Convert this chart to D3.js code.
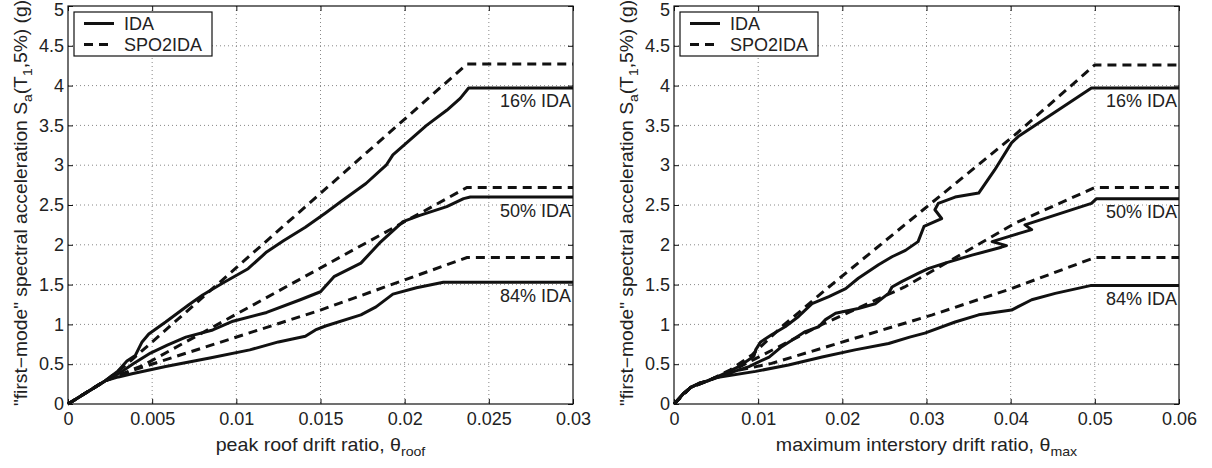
<!DOCTYPE html>
<html>
<head>
<meta charset="utf-8">
<script src="https://cdn.jsdelivr.net/npm/d3@7"></script>
<style>
  body { margin: 0; background: #fff; }
  svg { font-family: "Liberation Sans", Arial, Helvetica, sans-serif; }
  .tick text { font-size: 18px; fill: #222; }
</style>
</head>
<body>
<script>
// y axis (shared)
var yTicks = [0, 0.5, 1, 1.5, 2, 2.5, 3, 3.5, 4, 4.5, 5];
var yTickLabels = ['0', '0.5', '1', '1.5', '2', '2.5', '3', '3.5', '4', '4.5', '5'];

// left panel: peak roof drift ratio
var roofTicks = [0, 0.005, 0.01, 0.015, 0.02, 0.025, 0.03];
var roofTickLabels = ['0', '0.005', '0.01', '0.015', '0.02', '0.025', '0.03'];

var roofIda16 = [[0,0],[0.0011,0.145],[0.0022,0.29],[0.0030,0.42],[0.0035,0.54],[0.0040,0.61],[0.0044,0.78],[0.0048,0.88],
  [0.0058,1.03],[0.0072,1.25],[0.0080,1.37],[0.0092,1.52],[0.0107,1.70],[0.0118,1.91],[0.0128,2.05],[0.0141,2.22],
  [0.0153,2.40],[0.0162,2.54],[0.0177,2.77],[0.0189,3.00],[0.0193,3.13],[0.0213,3.50],[0.0225,3.69],[0.0233,3.84],
  [0.0238,3.97],[0.030,3.97]];
var roofIda50 = [[0,0],[0.0011,0.145],[0.0022,0.29],[0.0030,0.38],[0.0039,0.51],[0.0049,0.64],[0.0059,0.74],[0.0070,0.84],
  [0.0086,0.93],[0.0098,1.04],[0.0118,1.15],[0.0138,1.31],[0.0150,1.41],[0.0158,1.60],[0.0174,1.77],[0.0185,2.02],
  [0.0199,2.29],[0.0209,2.37],[0.0225,2.48],[0.0235,2.58],[0.0239,2.60],[0.030,2.60]];
var roofIda84 = [[0,0],[0.0011,0.145],[0.0022,0.29],[0.0030,0.34],[0.0038,0.38],[0.0058,0.47],[0.0085,0.58],[0.0108,0.68],
  [0.0125,0.78],[0.0141,0.85],[0.0147,0.93],[0.0153,0.98],[0.0174,1.12],[0.0183,1.22],[0.0193,1.38],[0.0207,1.46],
  [0.0223,1.53],[0.030,1.53]];
var roofSpo16 = [[0,0],[0.0022,0.29],[0.0035,0.50],[0.0237,4.27],[0.030,4.27]];
var roofSpo50 = [[0,0],[0.0022,0.29],[0.0045,0.49],[0.0237,2.72],[0.030,2.72]];
var roofSpo84 = [[0,0],[0.0022,0.29],[0.0038,0.42],[0.0150,1.18],[0.0237,1.84],[0.030,1.84]];

// right panel: maximum interstory drift ratio
var maxTicks = [0, 0.01, 0.02, 0.03, 0.04, 0.05, 0.06];
var maxTickLabels = ['0', '0.01', '0.02', '0.03', '0.04', '0.05', '0.06'];

var maxIda16 = [[0,0],[0.0006,0.07],[0.0012,0.14],[0.002,0.21],[0.003,0.26],[0.004,0.29],[0.0049,0.33],
  [0.0077,0.47],[0.0095,0.60],[0.0097,0.68],[0.0103,0.78],[0.0116,0.87],[0.0132,0.97],[0.0148,1.10],[0.0164,1.26],
  [0.0184,1.35],[0.0204,1.45],[0.0219,1.58],[0.0243,1.75],[0.0259,1.85],[0.0275,1.93],[0.0290,2.04],[0.0297,2.23],
  [0.0318,2.33],[0.0310,2.44],[0.0314,2.52],[0.0334,2.60],[0.0362,2.65],[0.0381,2.94],[0.0401,3.28],[0.0409,3.36],
  [0.0496,3.97],[0.060,3.97]];
var maxIda50 = [[0,0],[0.0006,0.07],[0.0012,0.14],[0.002,0.21],[0.003,0.26],[0.004,0.29],[0.0049,0.33],
  [0.0089,0.47],[0.0113,0.59],[0.0128,0.72],[0.0140,0.80],[0.0156,0.91],[0.0172,0.97],[0.0180,1.06],[0.0192,1.14],
  [0.0219,1.20],[0.0239,1.26],[0.0255,1.39],[0.0259,1.47],[0.0271,1.54],[0.0290,1.64],[0.0302,1.70],[0.0322,1.77],
  [0.0354,1.87],[0.0389,1.97],[0.0395,1.99],[0.0378,2.04],[0.0409,2.14],[0.0425,2.19],[0.0417,2.25],[0.0496,2.52],
  [0.0502,2.58],[0.060,2.58]];
var maxIda84 = [[0,0],[0.0006,0.07],[0.0012,0.14],[0.002,0.21],[0.003,0.26],[0.004,0.29],[0.0049,0.33],
  [0.0097,0.41],[0.0136,0.49],[0.0176,0.59],[0.0215,0.68],[0.0255,0.76],[0.0280,0.84],[0.0298,0.89],[0.0334,1.03],
  [0.0362,1.12],[0.0401,1.18],[0.0425,1.31],[0.0453,1.39],[0.0496,1.49],[0.060,1.49]];
var maxSpo16 = [[0,0],[0.002,0.21],[0.004,0.29],[0.0067,0.43],[0.0093,0.62],[0.0128,0.97],[0.0184,1.47],[0.0274,2.25],
  [0.0405,3.38],[0.050,4.26],[0.060,4.26]];
var maxSpo50 = [[0,0],[0.002,0.21],[0.004,0.29],[0.0075,0.45],[0.0176,1.0],[0.0274,1.47],[0.0405,2.27],[0.050,2.72],[0.060,2.72]];
var maxSpo84 = [[0,0],[0.002,0.21],[0.004,0.29],[0.0075,0.42],[0.0116,0.51],[0.0307,1.12],[0.0401,1.45],[0.050,1.84],[0.060,1.84]];

var fractileNames = ['16% IDA', '50% IDA', '84% IDA'];
var legendNames = ['IDA', 'SPO2IDA'];

var svg = d3.select('body').append('svg')
    .attr('width', 1212)
    .attr('height', 468);

var plotW = 505, plotH = 398, plotTop = 6;

function drawPanel(left, xTicks, xTickLabels, idas, spos, labMain, labSub) {
    var g = svg.append('g').attr('transform', 'translate(' + left + ',' + plotTop + ')');

    var x = d3.scaleLinear().domain([xTicks[0], xTicks[xTicks.length - 1]]).range([0, plotW]);
    var y = d3.scaleLinear().domain([0, 5]).range([plotH, 0]);

    // dotted grid
    g.append('g').selectAll('line')
        .data(xTicks.slice(1, -1)).enter().append('line')
        .attr('x1', d => x(d)).attr('x2', d => x(d))
        .attr('y1', 0).attr('y2', plotH)
        .attr('stroke', '#888').attr('stroke-dasharray', '1,3');
    g.append('g').selectAll('line')
        .data(yTicks.slice(1, -1)).enter().append('line')
        .attr('y1', d => y(d)).attr('y2', d => y(d))
        .attr('x1', 0).attr('x2', plotW)
        .attr('stroke', '#888').attr('stroke-dasharray', '1,3');

    // axes, ticks pointing inward
    var ax = g.append('g').attr('transform', 'translate(0,' + plotH + ')')
        .call(d3.axisBottom(x).tickValues(xTicks).tickSize(-5).tickPadding(8)
            .tickFormat((d, i) => xTickLabels[i]));
    var ay = g.append('g')
        .call(d3.axisLeft(y).tickValues(yTicks).tickSize(-5).tickPadding(4)
            .tickFormat((d, i) => yTickLabels[i]));
    var at = g.append('g')
        .call(d3.axisTop(x).tickValues(xTicks).tickSize(-5).tickFormat(''));
    var ar = g.append('g').attr('transform', 'translate(' + plotW + ',0)')
        .call(d3.axisRight(y).tickValues(yTicks).tickSize(-5).tickFormat(''));
    [ax, ay, at, ar].forEach(a => {
        a.select('.domain').remove();
        a.selectAll('.tick line').attr('stroke', '#111');
        a.attr('font-family', null).attr('font-size', null);
    });
    // keep the top "5" on the canvas
    ay.selectAll('.tick text').filter(d => d === 5).attr('dy', '0.5em');

    var line = d3.line().x(d => x(d[0])).y(d => y(d[1]));

    spos.forEach(s => {
        g.append('path').datum(s).attr('d', line)
            .attr('fill', 'none').attr('stroke', '#111').attr('stroke-width', 3)
            .attr('stroke-dasharray', '9,6');
    });
    idas.forEach(s => {
        g.append('path').datum(s).attr('d', line)
            .attr('fill', 'none').attr('stroke', '#111').attr('stroke-width', 3)
            .attr('stroke-linejoin', 'round');
    });

    // fractile labels under the flat tails
    idas.forEach((s, i) => {
        g.append('text')
            .attr('x', plotW - 2)
            .attr('y', y(s[s.length - 1][1]) + 19.5)
            .attr('text-anchor', 'end')
            .attr('font-size', 18).attr('fill', '#222')
            .text(fractileNames[i]);
    });

    // box
    g.append('rect').attr('width', plotW).attr('height', plotH)
        .attr('fill', 'none').attr('stroke', '#111').attr('stroke-width', 1.2);

    // legend
    var lg = g.append('g').attr('transform', 'translate(6,6)');
    lg.append('rect').attr('width', 138).attr('height', 44)
        .attr('fill', '#fff').attr('stroke', '#111').attr('stroke-width', 1.2);
    legendNames.forEach((n, i) => {
        var ly = 11.5 + i * 21;
        lg.append('line').attr('x1', 10).attr('x2', 40).attr('y1', ly).attr('y2', ly)
            .attr('stroke', '#111').attr('stroke-width', 3)
            .attr('stroke-dasharray', i === 1 ? '9,6' : null);
        lg.append('text').attr('x', 50).attr('y', ly + 6.5)
            .attr('font-size', 18).attr('fill', '#222').text(n);
    });

    // x label
    var xl = g.append('text')
        .attr('transform', 'translate(' + (plotW / 2) + ',445) scale(1.09,1)')
        .attr('text-anchor', 'middle').attr('font-size', 18).attr('fill', '#222');
    xl.append('tspan').text(labMain);
    xl.append('tspan').attr('font-size', 13).attr('dy', 5).text(labSub);

    // y label
    var yl = g.append('text')
        .attr('transform', 'translate(-41,' + (plotH / 2 - 2) + ') rotate(-90) scale(1.07,1)')
        .attr('text-anchor', 'middle').attr('font-size', 18).attr('fill', '#222');
    yl.append('tspan').text('"first\u2212mode" spectral acceleration S');
    yl.append('tspan').attr('font-size', 13).attr('dy', 5).text('a');
    yl.append('tspan').attr('dy', -5).text('(T');
    yl.append('tspan').attr('font-size', 13).attr('dy', 5).text('1');
    yl.append('tspan').attr('dy', -5).text(',5%) (g)');
}

drawPanel(68, roofTicks, roofTickLabels, [roofIda16, roofIda50, roofIda84], [roofSpo16, roofSpo50, roofSpo84],
    'peak roof drift ratio, \u03b8', 'roof');
drawPanel(674, maxTicks, maxTickLabels, [maxIda16, maxIda50, maxIda84], [maxSpo16, maxSpo50, maxSpo84],
    'maximum interstory drift ratio, \u03b8', 'max');
</script>
</body>
</html>
